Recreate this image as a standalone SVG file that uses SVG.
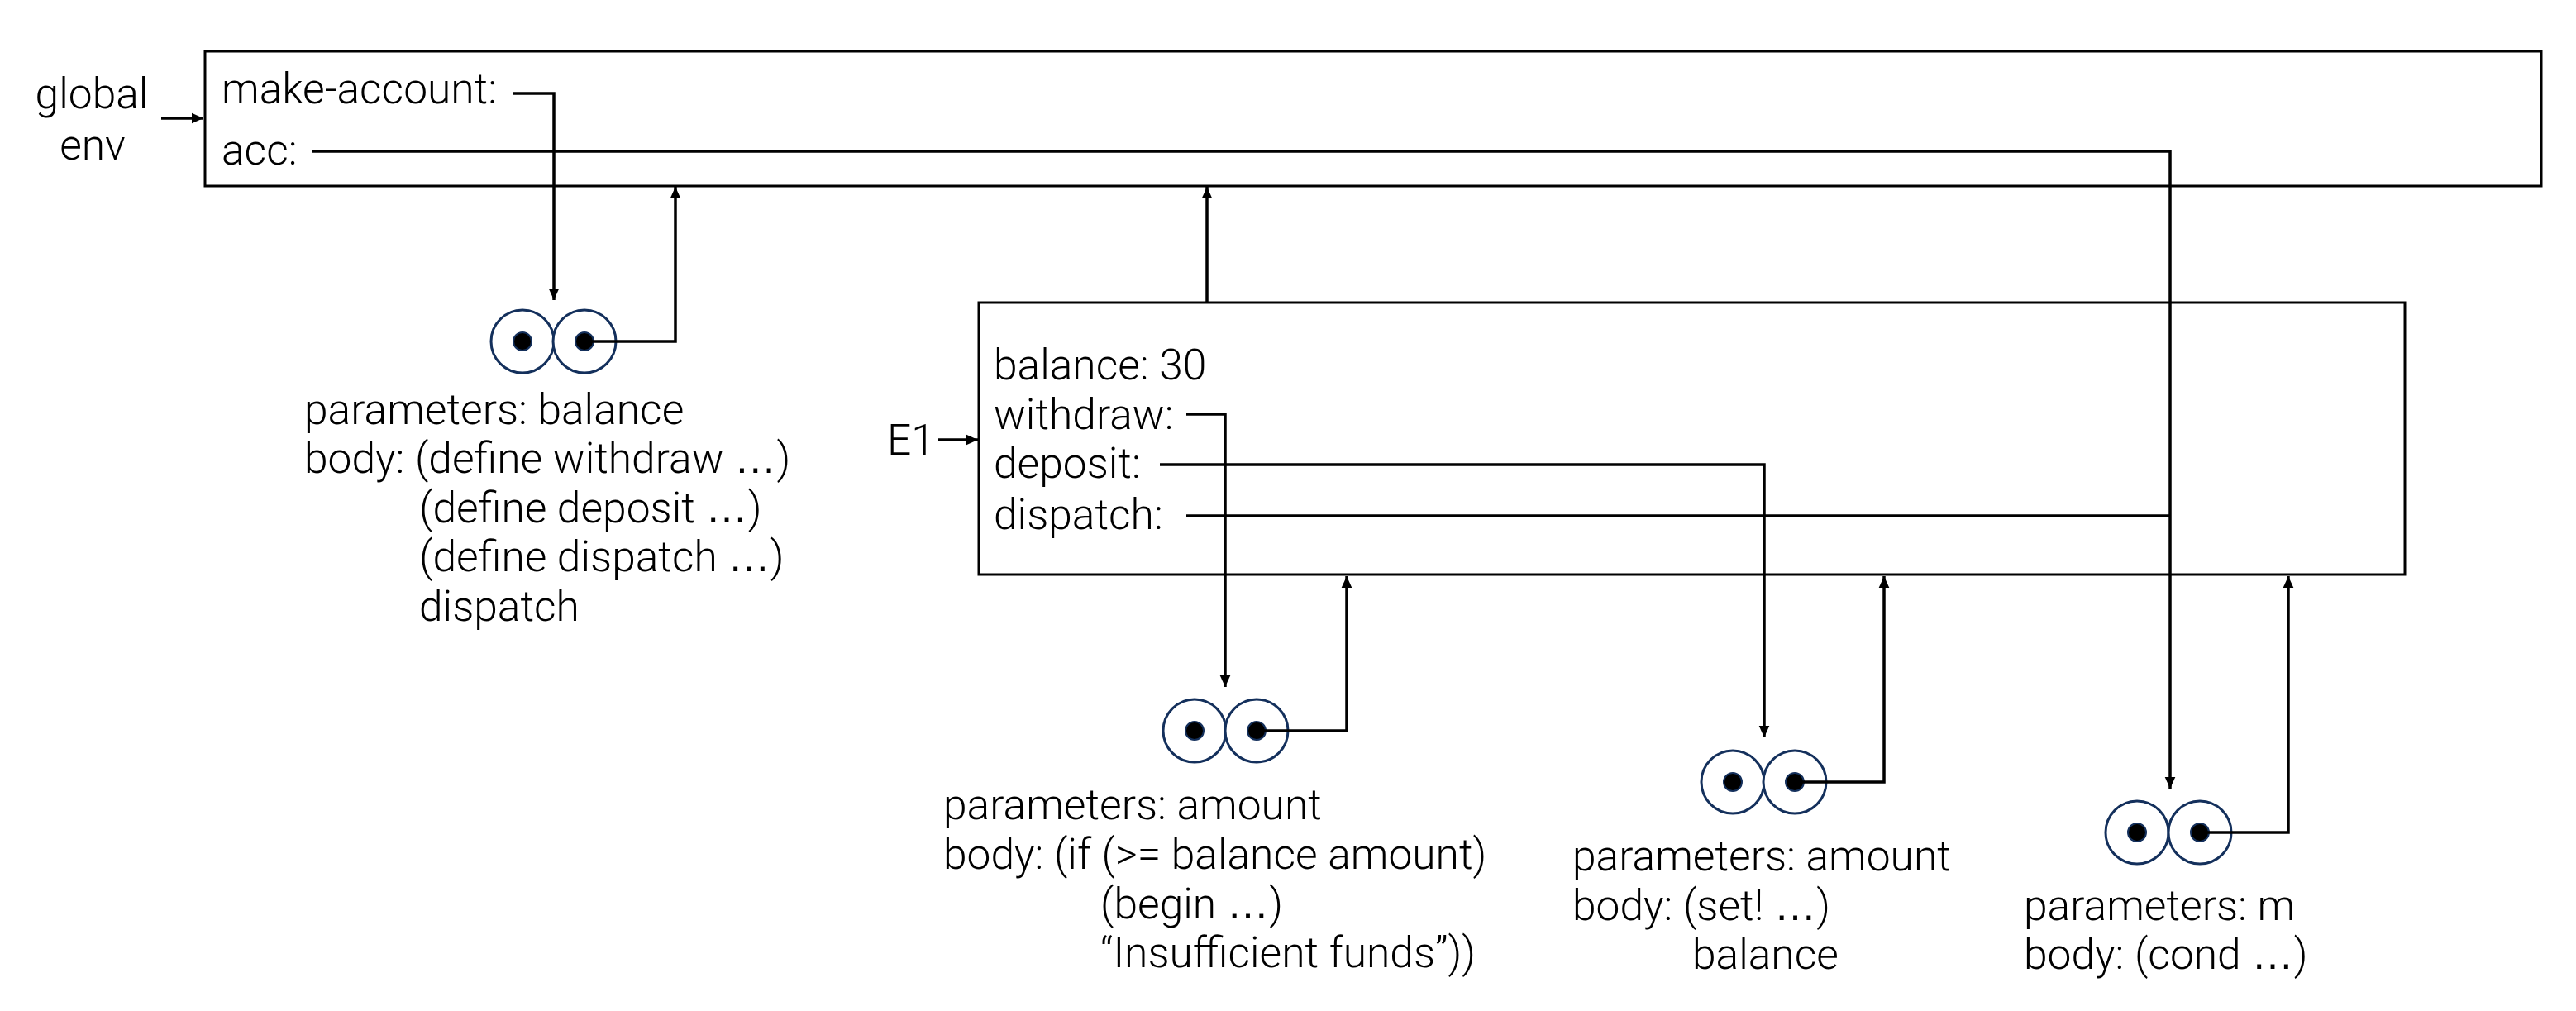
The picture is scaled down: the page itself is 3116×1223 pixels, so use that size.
<svg xmlns="http://www.w3.org/2000/svg" width="3116" height="1223" viewBox="0 0 3116 1223">
<defs>
<style>
text{font-family:Roboto,"Liberation Sans",Arial,sans-serif;font-weight:300;font-size:51.5px;fill:#000}
.el{font-family:"Liberation Sans",Arial,sans-serif;font-weight:400}
.box{fill:#fff;stroke:#000;stroke-width:3}
.ln{fill:none;stroke:#000;stroke-width:3.5}
.cell{fill:#fff;stroke:#14305c;stroke-width:3}
.dot{fill:#000;stroke:#14305c;stroke-width:2}
</style>
<marker id="ah" viewBox="0 0 10 10" refX="10" refY="5" markerWidth="14" markerHeight="14" markerUnits="userSpaceOnUse" orient="auto">
<path d="M0,0.5 L10,5 L0,9.5 z" fill="#000"/>
</marker>
</defs>
<rect width="3116" height="1223" fill="#fff"/>

<g id="global-env">
<rect class="box" x="248" y="62" width="2826" height="163"/>
<text x="268" y="125">make-account:</text>
<text x="268" y="199">acc:</text>
</g>
<g id="global-label">
<text x="111" y="131" text-anchor="middle">global</text>
<text x="112" y="193" text-anchor="middle">env</text>
</g>

<g id="E1">
<rect class="box" x="1184" y="366" width="1725" height="329"/>
<text x="1202" y="459">balance: 30</text>
<text x="1202" y="519">withdraw:</text>
<text x="1202" y="578">deposit:</text>
<text x="1202" y="640">dispatch:</text>
</g>
<g id="E1-label">
<text x="1073" y="550">E1</text>
</g>

<g id="closure-make-account">
<circle class="cell" cx="632" cy="413" r="38"/>
<circle class="cell" cx="707" cy="413" r="38"/>
<circle class="dot" cx="632" cy="413" r="11"/>
<circle class="dot" cx="707" cy="413" r="11"/>
<text x="368" y="513">parameters: balance</text>
<text x="368" y="572">body: (define withdraw <tspan class="el">…</tspan>)</text>
<text x="507" y="632">(define deposit <tspan class="el">…</tspan>)</text>
<text x="507" y="691">(define dispatch <tspan class="el">…</tspan>)</text>
<text x="507" y="751">dispatch</text>
</g>

<g id="closure-withdraw">
<circle class="cell" cx="1445" cy="884" r="38"/>
<circle class="cell" cx="1520" cy="884" r="38"/>
<circle class="dot" cx="1445" cy="884" r="11"/>
<circle class="dot" cx="1520" cy="884" r="11"/>
<text x="1141" y="991">parameters: amount</text>
<text x="1141" y="1051">body: (if (&gt;= balance amount)</text>
<text x="1331" y="1111">(begin <tspan class="el">…</tspan>)</text>
<text x="1331" y="1170">“Insufficient funds”))</text>
</g>

<g id="closure-deposit">
<circle class="cell" cx="2096" cy="946" r="38"/>
<circle class="cell" cx="2171" cy="946" r="38"/>
<circle class="dot" cx="2096" cy="946" r="11"/>
<circle class="dot" cx="2171" cy="946" r="11"/>
<text x="1902" y="1053">parameters: amount</text>
<text x="1902" y="1113">body: (set! <tspan class="el">…</tspan>)</text>
<text x="2047" y="1172">balance</text>
</g>

<g id="closure-dispatch">
<circle class="cell" cx="2585" cy="1007" r="38"/>
<circle class="cell" cx="2661" cy="1007" r="38"/>
<circle class="dot" cx="2585" cy="1007" r="11"/>
<circle class="dot" cx="2661" cy="1007" r="11"/>
<text x="2448" y="1113">parameters: m</text>
<text x="2448" y="1172">body: (cond <tspan class="el">…</tspan>)</text>
</g>

<g id="connectors">
<path class="ln" d="M195,143 H246" marker-end="url(#ah)"/>
<path class="ln" d="M620,113 H670 V363" marker-end="url(#ah)"/>
<path class="ln" d="M378,183 H2625 V954" marker-end="url(#ah)"/>
<path class="ln" d="M707,413 H817 V226" marker-end="url(#ah)"/>
<path class="ln" d="M1135,532 H1183" marker-end="url(#ah)"/>
<path class="ln" d="M1460,366 V226" marker-end="url(#ah)"/>
<path class="ln" d="M1435,501 H1482 V831" marker-end="url(#ah)"/>
<path class="ln" d="M1403,562 H2134 V892" marker-end="url(#ah)"/>
<path class="ln" d="M1435,624 H2625"/>
<path class="ln" d="M1520,884 H1629 V697" marker-end="url(#ah)"/>
<path class="ln" d="M2171,946 H2279 V697" marker-end="url(#ah)"/>
<path class="ln" d="M2661,1007 H2768 V697" marker-end="url(#ah)"/>
</g>
</svg>
